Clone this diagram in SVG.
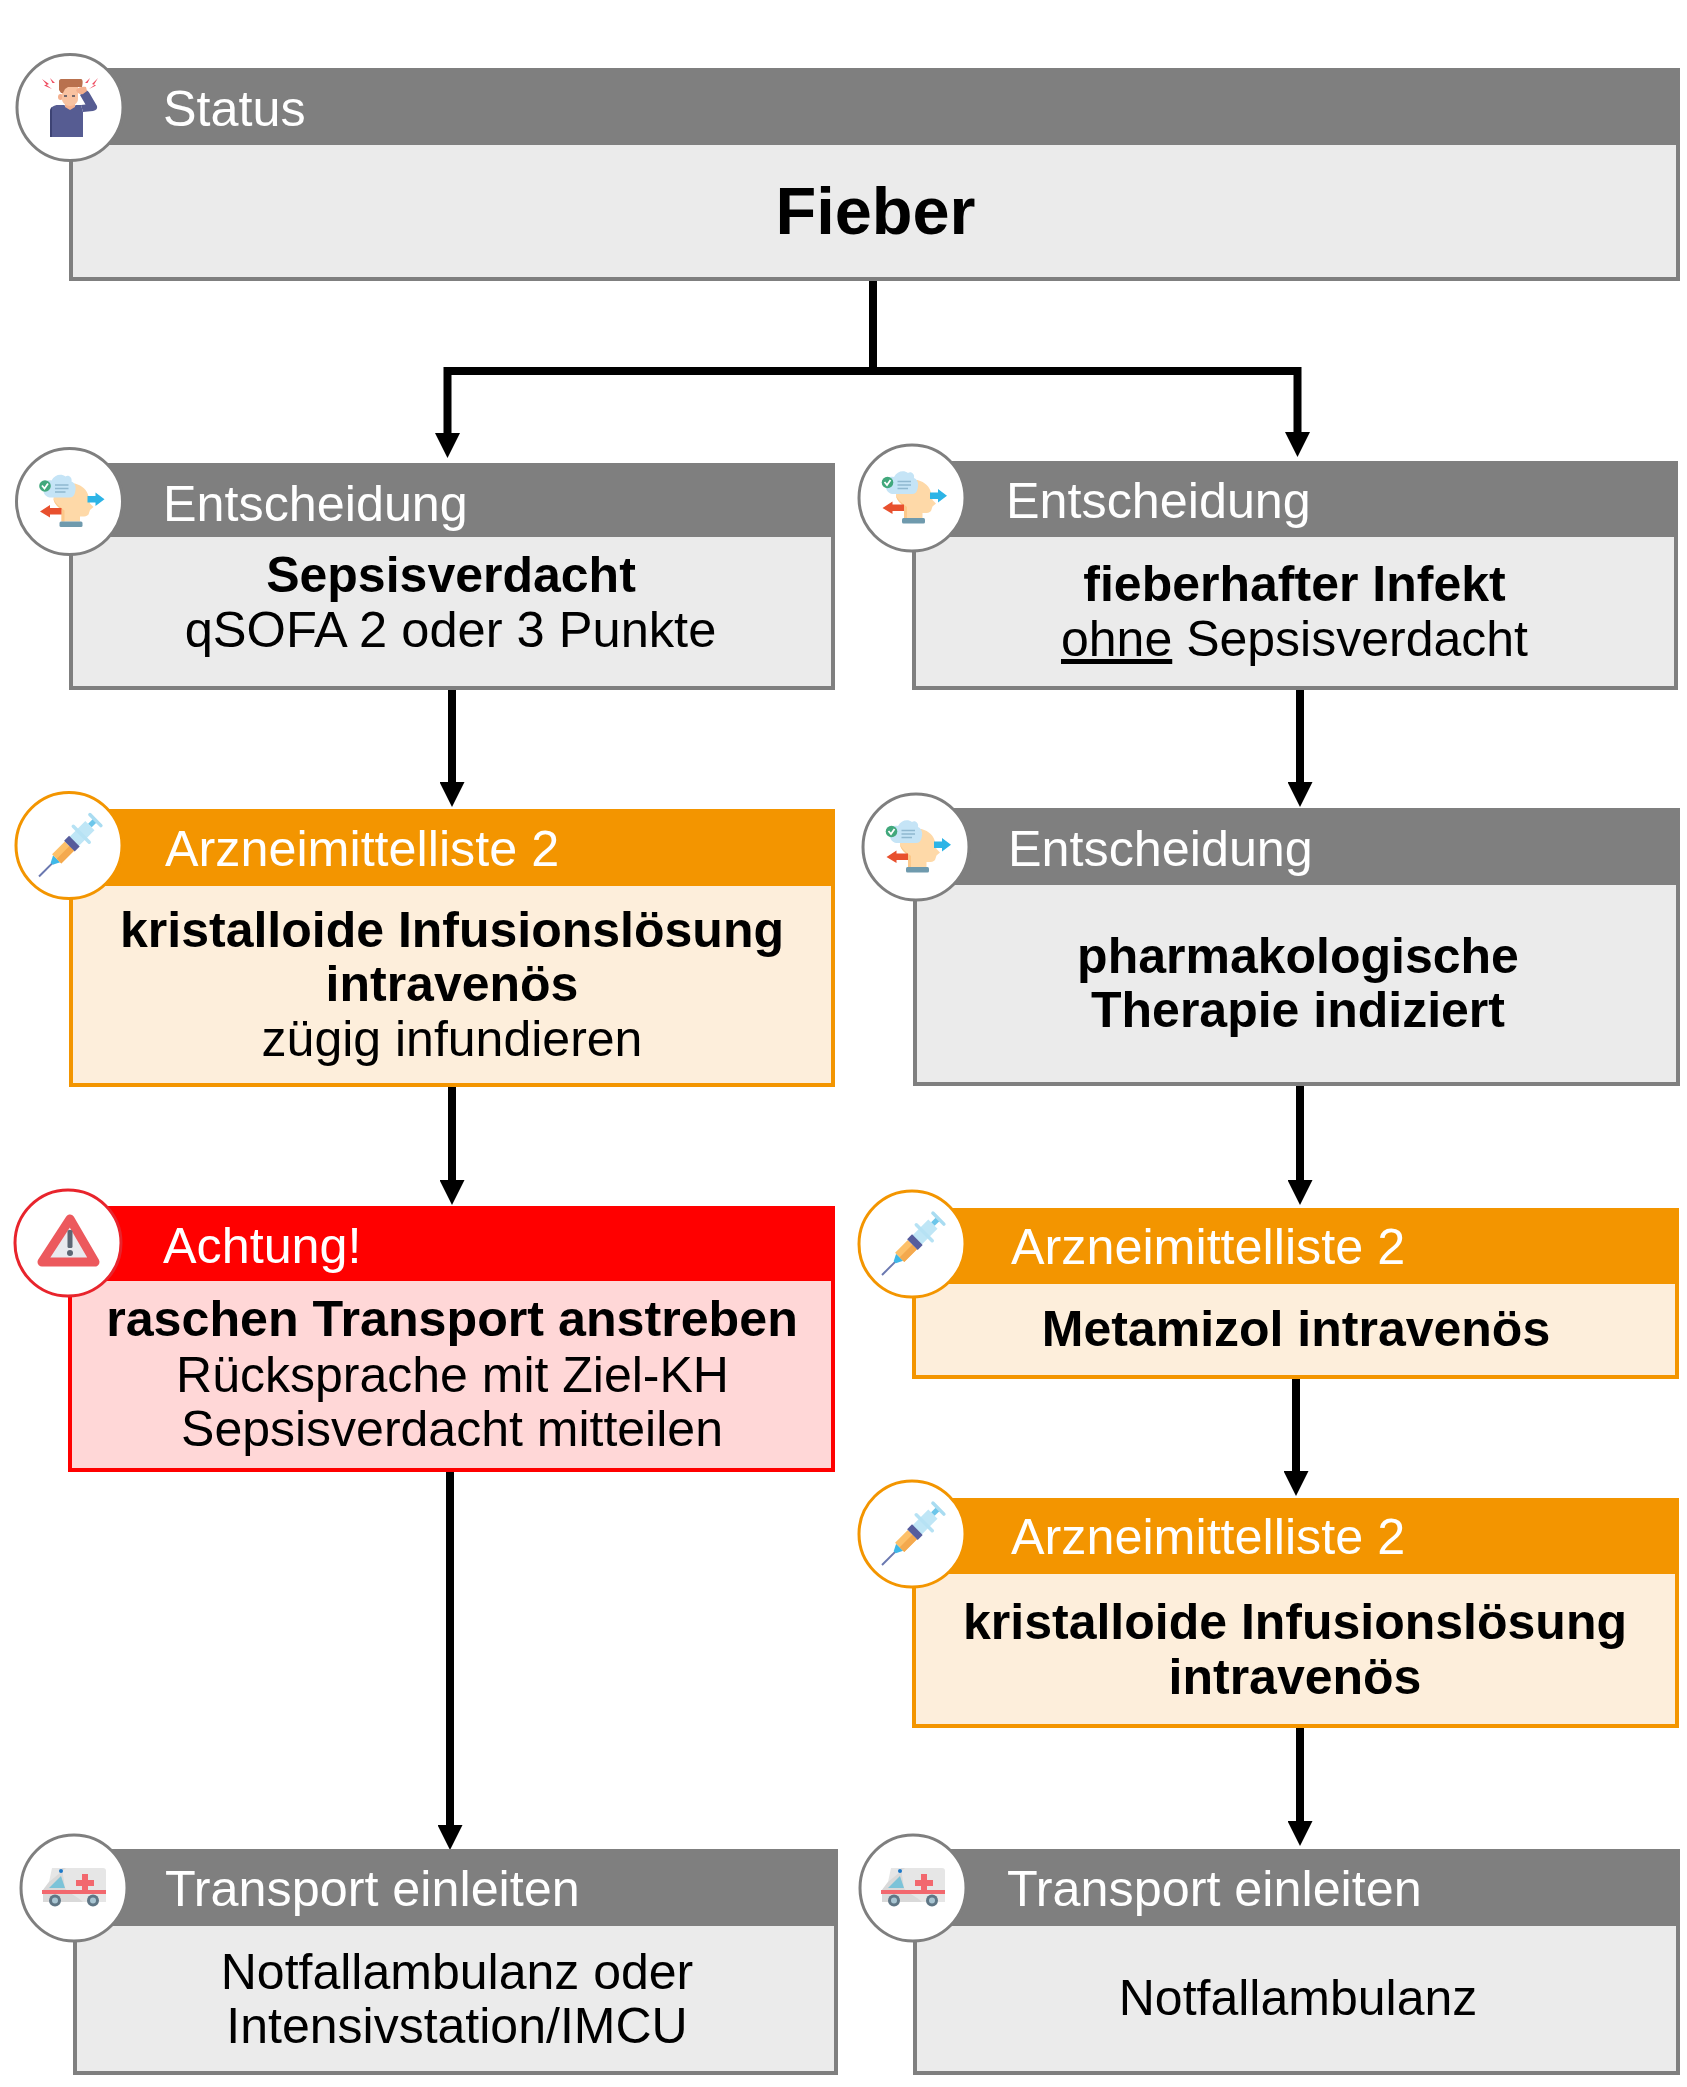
<svg xmlns="http://www.w3.org/2000/svg" width="1687" height="2087" viewBox="0 0 1687 2087">
<style>
text{font-family:"Liberation Sans",Arial,sans-serif;font-size:50px;fill:#000}
.h{fill:#fff;font-size:50.300px}
.c{text-anchor:middle}
.b{font-weight:700}
.body{stroke-width:4}
.gray .body{fill:#ebebeb;stroke:#7f7f7f}
.gray .head{fill:#7f7f7f}
.gray .ring{stroke:#7f7f7f}
.orange .body{fill:#fdeedb;stroke:#f39500}
.orange .head{fill:#f39500}
.orange .ring{stroke:#f39500}
.red .body{fill:#ffd7d7;stroke:#f00}
.red .head{fill:#f00}
.red .ring{stroke:#e8242c}
.ring{fill:#fff;stroke-width:3}
.conn{fill:none;stroke:#000;stroke-width:8;marker-end:url(#tip)}
</style>
<defs>
<marker id="tip" markerUnits="userSpaceOnUse" markerWidth="25" markerHeight="25" refX="2" refY="12.500" orient="auto">
<path d="M0 0L25 12.500L0 25Z" fill="#000"/>
</marker>
<symbol id="ico-head" overflow="visible">
<path d="M-15-3C-15-12-6-19 6.500-18C14-16 19-11 20-5L21.500 2L25 5.500L21.500 8.500L20 13C18 15.500 14 15 11.500 15V20H-7V8.500C-11 5-15 1-15-3Z" fill="#fed9a8"/>
<path d="M-15-3C-14 1-9 5-4 9V20H-7V8.500C-11 5-15 1-15-3Z" fill="#fcc88a"/>
<path d="M-19-4C-24-5-26-10-25-14C-25-20-21-22-17-21C-14-27-7-28-3-25C0-27 4-24 3-20C7-18 8-14 6.500-9C6-6 4-4 1-4Z" fill="#c5e4f6"/>
<path d="M-13.500-16.500H0M-13.500-13H0M-13.500-9.500H-3" stroke="#8fb8d0" stroke-width="1.600" fill="none"/>
<circle cx="-23.500" cy="-15.500" r="5.800" fill="#41a87c"/>
<path d="M-26.500-16L-24-13L-20.500-18" stroke="#fff" stroke-width="1.800" fill="none"/>
<path d="M19-5.500H27V-9L36-2.200L27 4.500V1H19Z" fill="#2db4e6"/>
<path d="M-7 6.500H-18.500V3.500L-28.500 10L-18.500 16V13H-7Z" fill="#e8502e"/>
<rect x="-9" y="20" width="23" height="5.500" rx="1.500" fill="#6f9aad"/>
</symbol>
<symbol id="ico-syringe" overflow="visible">
<g transform="translate(0 2) rotate(-45)">
<rect x="-41" y="-1" width="20" height="2" fill="#6a78b0"/>
<path d="M-23-1.500L-16-5V5L-23 1.500Z" fill="#3fb8e8"/>
<rect x="-16" y="-6.500" width="18" height="13" fill="#fdc069"/>
<rect x="-16" y="0" width="18" height="6.500" fill="#f4a94e"/>
<rect x="8" y="-6.500" width="23" height="13" fill="#bfe6f6"/>
<rect x="2" y="-7.500" width="7" height="15" fill="#565c9c"/>
<rect x="17" y="-13" width="3.500" height="26" rx="1.700" fill="#b6e2f4"/>
<rect x="31" y="-2.500" width="7" height="5" fill="#6cc6ea"/>
<rect x="37" y="-9.500" width="3.500" height="19" rx="1.700" fill="#a9dcf1"/>
</g>
</symbol>
<symbol id="ico-warn" overflow="visible">
<path d="M3-24L28 19H-25Z" fill="#e9eaee" stroke="#ec595d" stroke-width="9" stroke-linejoin="round"/>
<rect x="0.500" y="-13" width="5" height="18" rx="1.500" fill="#5d6673"/>
<circle cx="3" cy="10" r="3" fill="#5d6673"/>
</symbol>
<symbol id="ico-amb" overflow="visible">
<path d="M-21-20H30C32-20 33-19 33-17V14H-30V2L-24-6Z" fill="#e6e6e6"/>
<path d="M-7-20H-11L-8 0C-5 5 4 8 10 14H-30V2L-24-6Z" fill="#d9d9d9"/>
<path d="M-12-12L-8 0H-24Z" fill="#7cc3d8"/>
<rect x="-31" y="2" width="64" height="4" fill="#f2686e"/>
<path d="M9-15H15V-9H21V-3H15V3H9V-3H3V-9H9Z" fill="#f2686e" transform="translate(0 1)"/>
<circle cx="-18" cy="12.500" r="6" fill="#5f7685"/><circle cx="-18" cy="12.500" r="3" fill="#a8c5d2"/>
<circle cx="20" cy="12.500" r="6" fill="#5f7685"/><circle cx="20" cy="12.500" r="3" fill="#a8c5d2"/>
<circle cx="-12" cy="-17" r="2" fill="#1c78c8"/>
</symbol>
</defs>

<g id="connectors">
<path class="conn" d="M873 281V371H447.500V435"/>
<path class="conn" d="M873 371H1297.500V434"/>
<path class="conn" d="M452 690V784"/>
<path class="conn" d="M1300 690V784"/>
<path class="conn" d="M452 1087V1182"/>
<path class="conn" d="M1300 1086V1182"/>
<path class="conn" d="M1296 1379V1473"/>
<path class="conn" d="M450 1472V1827"/>
<path class="conn" d="M1300 1728V1823"/>
</g>

<g id="status" class="gray">
<rect class="body" x="71" y="70" width="1607" height="209"/>
<rect class="head" x="71" y="68" width="1609" height="77"/>
<circle class="ring" cx="70" cy="107.500" r="53"/>
<g id="person-icon">
<path d="M42 79L49 84L46.500 85L52 89L44 85.500L46.500 84.500ZM50 78L55 83L52.500 83ZM98 78L92 84L94.500 85L89 89L96 85.500L94 84.500ZM90 78L85 83L87.500 83Z" fill="#ef4a5e"/>
<path d="M50 137V112C50 107 54 105 58 105H64L70 109L76 105H81L83 112V137Z" fill="#565c92"/>
<path d="M50 137V112C50 109 51 108 52 107V137Z" fill="#3d4374"/>
<path d="M65 102H75V107L70 110L65 107Z" fill="#f4b08e"/>
<ellipse cx="60.500" cy="97" rx="2.500" ry="3" fill="#f4b08e"/>
<path d="M62 86H78V99C78 103 74 106 70 106C66 106 62 103 62 99Z" fill="#f9c2a0"/>
<path d="M64 96h3M72 96h3" stroke="#4a4a5a" stroke-width="1.500"/>
<path d="M59 81C59 80 60 79 61 79H81C83 79 83 83 82 87H68L65 89L63 93L61 93L59 90Z" fill="#b9714e"/>
<path d="M80 95L85 90Q88 90 90 94L97 106Q98 110 93 111L83 112L81 105L85.500 104.500Z" fill="#565c92"/>
<path d="M76 90C78 87 83 86 86 87L87 91L83 94C80 95 77 93 76 90Z" fill="#f4b08e"/>
</g>
<text class="h" x="163" y="126">Status</text>
<text class="c b" x="875.500" y="233.500" style="font-size:66.700px">Fieber</text>
</g>

<g id="decision-sepsis" class="gray">
<rect class="body" x="71" y="465" width="762" height="223"/>
<rect class="head" x="71" y="463" width="764" height="74"/>
<circle class="ring" cx="69.500" cy="501.500" r="53"/>
<use href="#ico-head" x="68.500" y="501.500"/>
<text class="h" x="163" y="520.500">Entscheidung</text>
<text class="c b" x="451" y="592">Sepsisverdacht</text>
<text class="c" x="450.500" y="646.500" style="font-size:50.600px">qSOFA 2 oder 3 Punkte</text>
</g>

<g id="decision-infekt" class="gray">
<rect class="body" x="914" y="463" width="762" height="225"/>
<rect class="head" x="914" y="461" width="764" height="76"/>
<circle class="ring" cx="912" cy="498" r="53"/>
<use href="#ico-head" x="911" y="498"/>
<text class="h" x="1006" y="517.500">Entscheidung</text>
<text class="c b" x="1294.500" y="600.500">fieberhafter Infekt</text>
<text class="c" x="1294.500" y="656"><tspan text-decoration="underline">ohne</tspan> Sepsisverdacht</text>
</g>

<g id="drug-left" class="orange">
<rect class="body" x="71" y="811" width="762" height="274"/>
<rect class="head" x="71" y="809" width="764" height="77"/>
<circle class="ring" cx="69" cy="845.500" r="53"/>
<use href="#ico-syringe" x="68" y="845.500"/>
<text class="h" x="165" y="866">Arzneimittelliste 2</text>
<text class="c b" x="452" y="947">kristalloide Infusionslösung</text>
<text class="c b" x="452" y="1001">intravenös</text>
<text class="c" x="452" y="1056">zügig infundieren</text>
</g>

<g id="decision-therapie" class="gray">
<rect class="body" x="915" y="810" width="763" height="274"/>
<rect class="head" x="915" y="808" width="765" height="77"/>
<circle class="ring" cx="916" cy="847" r="53"/>
<use href="#ico-head" x="915" y="847"/>
<text class="h" x="1008" y="866">Entscheidung</text>
<text class="c b" x="1298" y="973">pharmakologische</text>
<text class="c b" x="1298" y="1027">Therapie indiziert</text>
</g>

<g id="alert" class="red">
<rect class="body" x="70" y="1208" width="763" height="262"/>
<rect class="head" x="70" y="1206" width="765" height="75"/>
<circle class="ring" cx="68" cy="1243" r="53"/>
<use href="#ico-warn" x="67" y="1243"/>
<text class="h" x="163" y="1263">Achtung!</text>
<text class="c b" x="452" y="1336" style="font-size:50.200px">raschen Transport anstreben</text>
<text class="c" x="452.500" y="1392">Rücksprache mit Ziel-KH</text>
<text class="c" x="452" y="1446">Sepsisverdacht mitteilen</text>
</g>

<g id="drug-metamizol" class="orange">
<rect class="body" x="914" y="1210" width="763" height="167"/>
<rect class="head" x="914" y="1208" width="765" height="76"/>
<circle class="ring" cx="912" cy="1244" r="53"/>
<use href="#ico-syringe" x="911" y="1244"/>
<text class="h" x="1011" y="1264">Arzneimittelliste 2</text>
<text class="c b" x="1296" y="1346">Metamizol intravenös</text>
</g>

<g id="drug-infusion" class="orange">
<rect class="body" x="914" y="1500" width="763" height="226"/>
<rect class="head" x="914" y="1498" width="765" height="76"/>
<circle class="ring" cx="912" cy="1534" r="53"/>
<use href="#ico-syringe" x="911" y="1534"/>
<text class="h" x="1011" y="1554">Arzneimittelliste 2</text>
<text class="c b" x="1295" y="1638.500">kristalloide Infusionslösung</text>
<text class="c b" x="1295" y="1693.500">intravenös</text>
</g>

<g id="transport-left" class="gray">
<rect class="body" x="75" y="1851" width="761" height="222"/>
<rect class="head" x="75" y="1849" width="763" height="77"/>
<circle class="ring" cx="74" cy="1888" r="53"/>
<use href="#ico-amb" x="73" y="1888"/>
<text class="h" x="165" y="1906">Transport einleiten</text>
<text class="c" x="457" y="1988.500">Notfallambulanz oder</text>
<text class="c" x="457" y="2042.500">Intensivstation/IMCU</text>
</g>

<g id="transport-right" class="gray">
<rect class="body" x="915" y="1851" width="763" height="222"/>
<rect class="head" x="915" y="1849" width="765" height="77"/>
<circle class="ring" cx="913" cy="1888" r="53"/>
<use href="#ico-amb" x="912" y="1888"/>
<text class="h" x="1007" y="1906">Transport einleiten</text>
<text class="c" x="1298" y="2014.500">Notfallambulanz</text>
</g>
</svg>
